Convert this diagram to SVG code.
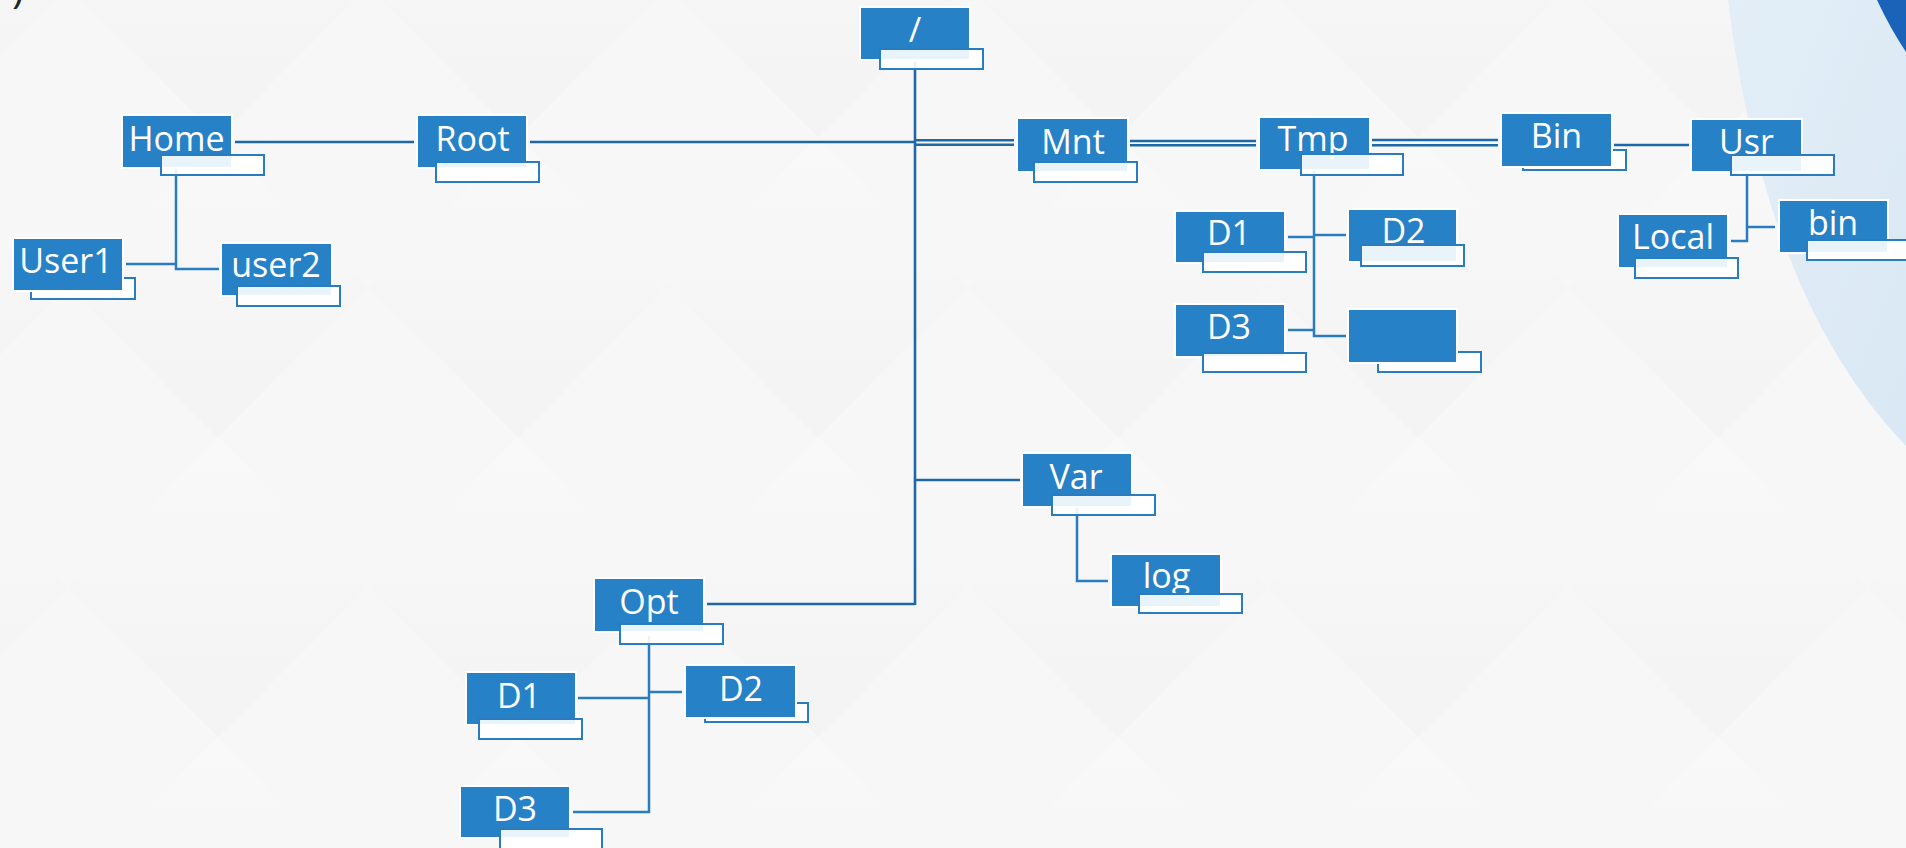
<svg xmlns="http://www.w3.org/2000/svg" width="1906" height="848" viewBox="0 0 1906 848">
  <defs>
    <linearGradient id="dg" x1="0" y1="0" x2="0" y2="1">
      <stop offset="0" stop-color="#f9f9f9"/>
      <stop offset="1" stop-color="#f3f3f3"/>
    </linearGradient>
    <pattern id="diam" patternUnits="userSpaceOnUse" width="300" height="300" patternTransform="translate(68 437)">
      <rect width="300" height="300" fill="#f7f7f7"/>
      <polygon points="150,0 300,150 150,300 0,150" fill="url(#dg)"/>
    </pattern>
    <linearGradient id="lb" x1="0" y1="0" x2="1" y2="1">
      <stop offset="0" stop-color="#e3eef7"/>
      <stop offset="1" stop-color="#d9e8f4"/>
    </linearGradient>
    <style>
      .box { fill: #2781c6; stroke: #ffffff; stroke-width: 2; }
      .bar { fill: #ffffff; fill-opacity: 0.9; stroke: #2a7cc0; stroke-width: 2; }
      .lbl { font-family: "Open Sans", "Noto Sans", "Liberation Sans", sans-serif; font-size: 34px; fill: #ffffff; text-anchor: middle; }
      .main { stroke: #1f68a6; stroke-width: 2.6; fill: none; }
      .br { stroke: #2a7cc0; stroke-width: 2.5; fill: none; }
    </style>
  </defs>

  <rect x="0" y="0" width="1906" height="848" fill="url(#diam)"/>
  <path d="M1728 0 Q1765 300 1906 446 L1906 0 Z" fill="url(#lb)"/>
  <path d="M1877 0 Q1890 28 1906 52 L1906 0 Z" fill="#1a63b8"/>
  <text x="12" y="3" font-family="Open Sans, Liberation Sans, sans-serif" font-size="40" fill="#222">)</text>

  <g id="connectors">
    <line class="main" x1="915" y1="62" x2="915" y2="605"/>
    <line class="main" x1="530" y1="142" x2="915" y2="142"/>
    <line class="main" x1="235" y1="142" x2="414" y2="142"/>
    <line class="main" x1="915" y1="140.3" x2="1014" y2="140.3" stroke-width="2.7"/>
    <line class="main" x1="915" y1="144.7" x2="1014" y2="144.7" stroke-width="4"/>
    <line class="main" x1="1130" y1="141" x2="1256" y2="141" stroke-width="2.5"/>
    <line class="main" x1="1130" y1="145.2" x2="1256" y2="145.2" stroke-width="3"/>
    <line class="main" x1="1372" y1="140" x2="1498" y2="140" stroke-width="2.3"/>
    <line class="main" x1="1372" y1="145.3" x2="1498" y2="145.3" stroke-width="2.3"/>
    <line class="main" x1="1614" y1="145" x2="1689" y2="145"/>
    <line class="main" x1="915" y1="480" x2="1020" y2="480"/>
    <line class="main" x1="707" y1="604" x2="915" y2="604"/>

    <polyline class="br" points="176,168 176,269 219,269"/>
    <line class="br" x1="126" y1="264" x2="176" y2="264"/>

    <polyline class="br" points="1314,168 1314,336 1346,336"/>
    <line class="br" x1="1288" y1="237" x2="1314" y2="237"/>
    <line class="br" x1="1314" y1="235" x2="1346" y2="235"/>
    <line class="br" x1="1288" y1="330" x2="1314" y2="330"/>

    <polyline class="br" points="1747,168 1747,241 1731,241"/>
    <line class="br" x1="1747" y1="227" x2="1775" y2="227"/>

    <polyline class="br" points="1077,508 1077,581 1108,581"/>

    <polyline class="br" points="649,636 649,812 573,812"/>
    <line class="br" x1="578" y1="698" x2="649" y2="698"/>
    <line class="br" x1="649" y1="692" x2="682" y2="692"/>
  </g>

  <g id="n-slash">
    <rect class="box" x="860" y="7" width="110" height="53"/>
    <text class="lbl" x="915" y="42">/</text>
    <rect class="bar" x="880" y="49" width="103" height="20"/>
  </g>
  <g id="n-home">
    <rect class="box" x="122" y="115" width="110" height="53"/>
    <text class="lbl" x="176.5" y="151">Home</text>
    <rect class="bar" x="161" y="155" width="103" height="20"/>
  </g>
  <g id="n-root">
    <rect class="box" x="417" y="115" width="110" height="53"/>
    <text class="lbl" x="472.5" y="151">Root</text>
    <rect class="bar" x="436" y="162" width="103" height="20"/>
  </g>
  <g id="n-user1">
    <rect class="bar" x="31" y="278" width="104" height="21"/>
    <rect class="box" x="13" y="238" width="110" height="53"/>
    <text class="lbl" x="66" y="273">User1</text>
  </g>
  <g id="n-user2">
    <rect class="box" x="221" y="243" width="111" height="53"/>
    <text class="lbl" x="276" y="277">user2</text>
    <rect class="bar" x="237" y="286" width="103" height="20"/>
  </g>
  <g id="n-mnt">
    <rect class="box" x="1017" y="118" width="111" height="54"/>
    <text class="lbl" x="1073" y="154">Mnt</text>
    <rect class="bar" x="1034" y="162" width="103" height="20"/>
  </g>
  <g id="n-tmp">
    <rect class="box" x="1259" y="117" width="111" height="53"/>
    <text class="lbl" x="1313" y="151">Tmp</text>
    <rect class="bar" x="1301" y="154" width="102" height="21"/>
  </g>
  <g id="n-bin">
    <rect class="bar" x="1523" y="150" width="103" height="20"/>
    <rect class="box" x="1501" y="113" width="111" height="54"/>
    <text class="lbl" x="1556.5" y="148">Bin</text>
  </g>
  <g id="n-usr">
    <rect class="box" x="1691" y="119" width="111" height="53"/>
    <text class="lbl" x="1746.5" y="154">Usr</text>
    <rect class="bar" x="1731" y="155" width="103" height="20"/>
  </g>
  <g id="n-local">
    <rect class="box" x="1618" y="214" width="110" height="54"/>
    <text class="lbl" x="1673" y="249">Local</text>
    <rect class="bar" x="1635" y="258" width="103" height="20"/>
  </g>
  <g id="n-usrbin">
    <rect class="box" x="1779" y="200" width="109" height="53"/>
    <text class="lbl" x="1833" y="235">bin</text>
    <rect class="bar" x="1807" y="240" width="103" height="20"/>
  </g>
  <g id="n-tmp-d1">
    <rect class="box" x="1175" y="211" width="110" height="52"/>
    <text class="lbl" x="1229" y="245">D1</text>
    <rect class="bar" x="1203" y="252" width="103" height="20"/>
  </g>
  <g id="n-tmp-d2">
    <rect class="box" x="1348" y="209" width="109" height="53"/>
    <text class="lbl" x="1403.5" y="243">D2</text>
    <rect class="bar" x="1361" y="245" width="103" height="21"/>
  </g>
  <g id="n-tmp-d3">
    <rect class="box" x="1175" y="304" width="110" height="53"/>
    <text class="lbl" x="1229" y="339">D3</text>
    <rect class="bar" x="1203" y="353" width="103" height="19"/>
  </g>
  <g id="n-tmp-blank">
    <rect class="bar" x="1378" y="352" width="103" height="20"/>
    <rect class="box" x="1348" y="309" width="109" height="54"/>
  </g>
  <g id="n-var">
    <rect class="box" x="1022" y="453" width="110" height="54"/>
    <text class="lbl" x="1076" y="489">Var</text>
    <rect class="bar" x="1052" y="495" width="103" height="20"/>
  </g>
  <g id="n-log">
    <rect class="box" x="1111" y="554" width="110" height="53"/>
    <text class="lbl" x="1166.5" y="588">log</text>
    <rect class="bar" x="1139" y="594" width="103" height="19"/>
  </g>
  <g id="n-opt">
    <rect class="box" x="594" y="578" width="110" height="54"/>
    <text class="lbl" x="649" y="614">Opt</text>
    <rect class="bar" x="620" y="624" width="103" height="20"/>
  </g>
  <g id="n-opt-d1">
    <rect class="box" x="466" y="672" width="110" height="53"/>
    <text class="lbl" x="519" y="708">D1</text>
    <rect class="bar" x="479" y="719" width="103" height="20"/>
  </g>
  <g id="n-opt-d2">
    <rect class="bar" x="705" y="703" width="103" height="19"/>
    <rect class="box" x="685" y="665" width="111" height="53"/>
    <text class="lbl" x="741" y="701">D2</text>
  </g>
  <g id="n-opt-d3">
    <rect class="box" x="460" y="786" width="110" height="52"/>
    <text class="lbl" x="515" y="821">D3</text>
    <rect class="bar" x="500" y="829" width="102" height="20"/>
  </g>
</svg>
